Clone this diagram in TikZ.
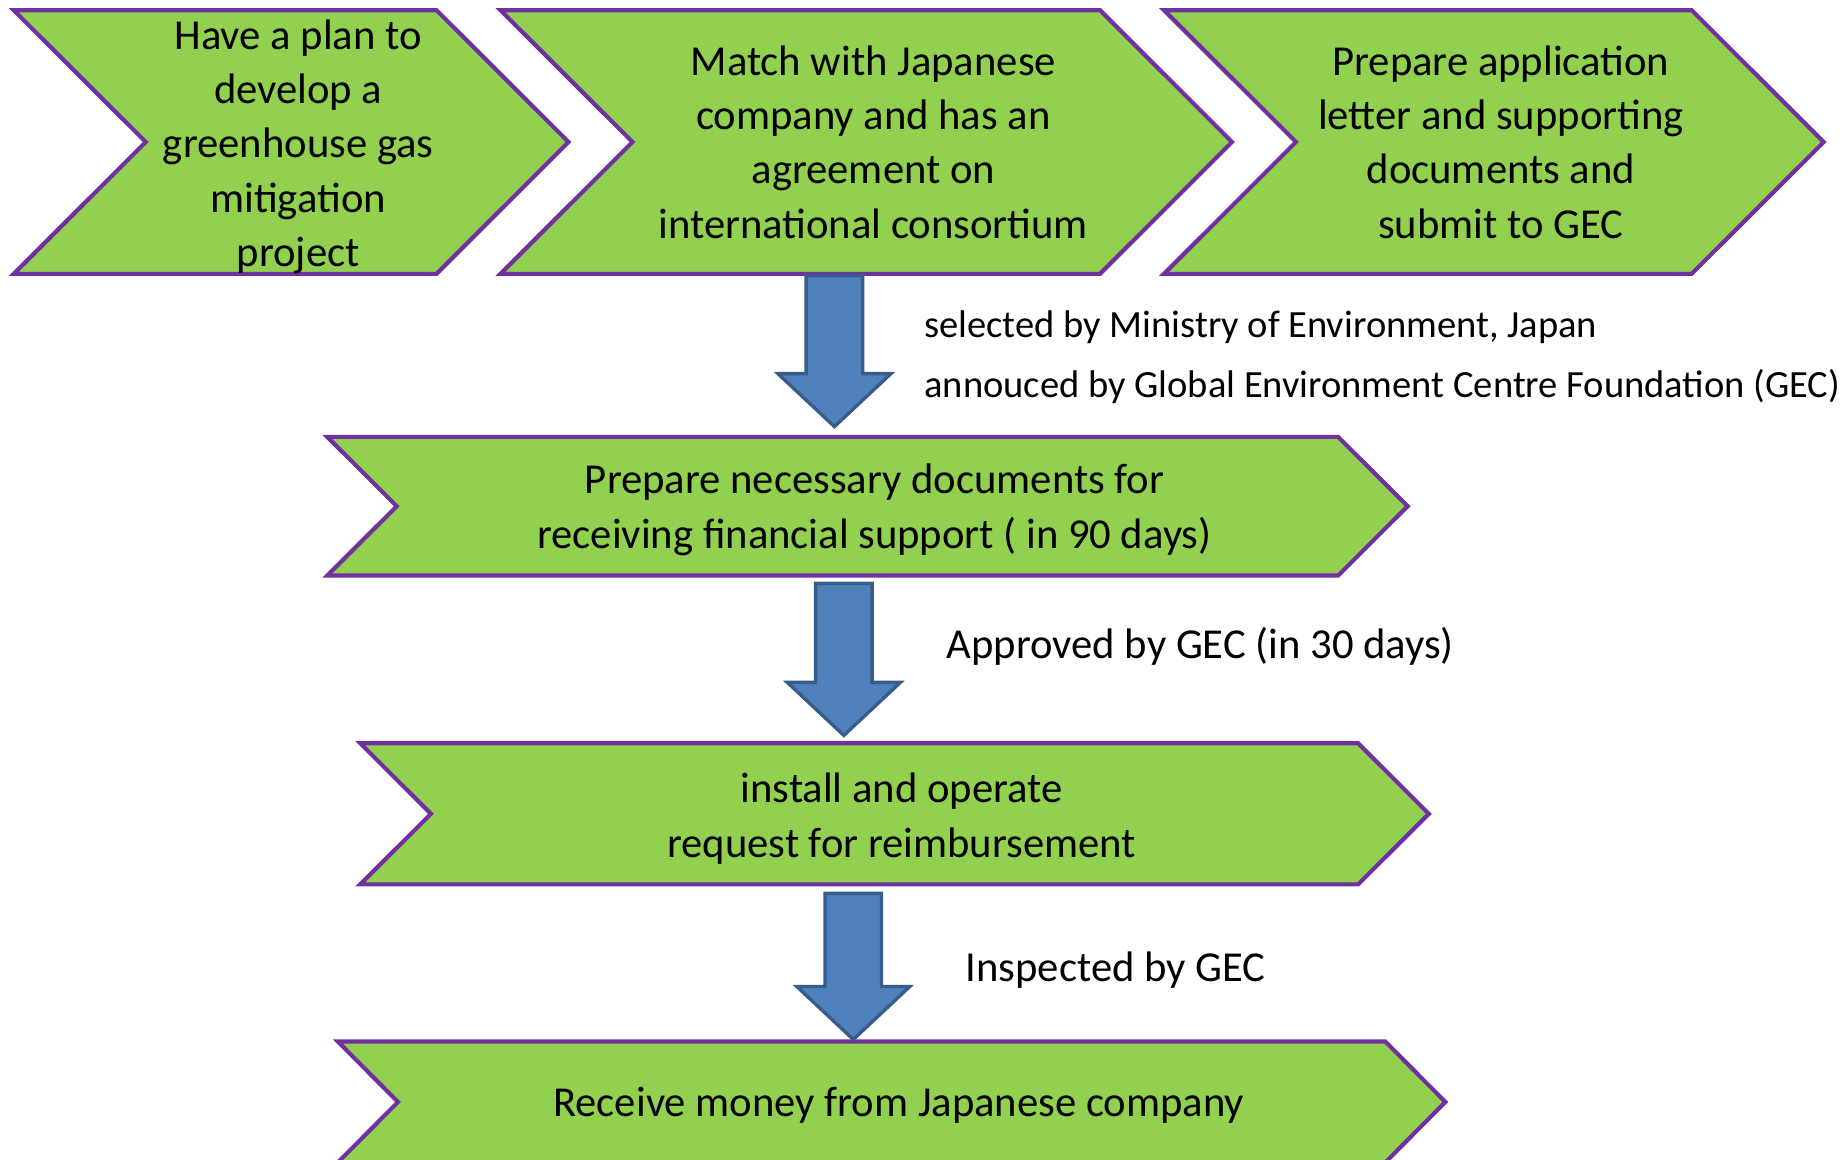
\documentclass[tikz,border=0pt]{standalone}
\usepackage{fontspec}
\setmainfont{Carlito}
\usetikzlibrary{calc}
\usetikzlibrary{backgrounds}
\definecolor{stagefill}{HTML}{92D050}
\definecolor{stageline}{HTML}{7030A0}
\definecolor{flowfill}{HTML}{4F81BD}
\definecolor{flowline}{HTML}{385D8A}
\newcommand{\px}{0.02cm}
\newcommand{\flowarrow}[2]{%
  \draw[flow] ($(#1)+(-24,0)$) -- ($(#2)+(-24,-45)$) -- ($(#2)+(-48,-45)$) -- (#2)
    -- ($(#2)+(48,-45)$) -- ($(#2)+(24,-45)$) -- ($(#1)+(24,0)$) -- cycle;}

\begin{document}
\begin{tikzpicture}[x=\px, y=-\px]
            \tikzset{stage/.style={inner sep=0pt, align=center, font=\fontsize{20.6}{26.2}\selectfont},
                     chevron/.style={fill=stagefill, draw=stageline, line width=2pt, line join=miter},
                     flow/.style={fill=flowfill, draw=flowline, line width=1.6pt, line join=miter},
                     note/.style={anchor=west, inner sep=0pt, font=\fontsize{18.6}{22}\selectfont},
                     bignote/.style={note, font=\fontsize{20.6}{26.2}\selectfont}}
            \useasboundingbox (0,0) rectangle (1568,984);
            % top row
            \node[stage, minimum width=470*\px, minimum height=223*\px] (plan) at (253,124.5) {Have a plan to\\develop a\\greenhouse gas\\mitigation\\project};
            \node[stage, minimum width=620*\px, minimum height=223*\px] (match) at (741,120.5) {Match with Japanese\\company and has an\\agreement on\\international consortium};
            \node[stage, minimum width=559*\px, minimum height=223*\px] (apply) at (1273.5,120.5) {Prepare application\\letter and supporting\\documents and\\submit to GEC};
            % lower steps
            \node[stage, minimum width=916*\px, minimum height=117*\px] (docs) at (742,432.5) {Prepare necessary documents for\\receiving financial support ( in 90 days)};
            \node[stage, minimum width=906*\px, minimum height=119*\px] (operate) at (765,694.5) {install and operate\\request for reimbursement};
            \node[stage, minimum width=939*\px, minimum height=102*\px] (receive) at (762.5,938) {Receive money from Japanese company};
            \begin{scope}[on background layer]
              \foreach \n/\d/\dy in {plan/112/4, match/112/0, apply/112/0, docs/59/3, operate/60/4, receive/51/3}
                \draw[chevron] ([shift={(-6,-\dy)}]\n.north west) -- ([shift={(-6-\d,-\dy)}]\n.north east)
                  -- ([shift={(-6,-\dy)}]\n.east) -- ([shift={(-6-\d,-\dy)}]\n.south east)
                  -- ([shift={(-6,-\dy)}]\n.south west) -- ([shift={(\d-6,-\dy)}]\n.west) -- cycle;
            \end{scope}
            % arrows between steps
            \coordinate (f1a) at (708,234);
            \coordinate (f1b) at (708,362);
            \coordinate (f2a) at (716,495);
            \coordinate (f2b) at (716,624);
            \coordinate (f3a) at (724,758);
            \coordinate (f3b) at (724,882);
            \flowarrow{f1a}{f1b}
            \flowarrow{f2a}{f2b}
            \flowarrow{f3a}{f3b}
            \node[note] (select) at (784,278) {selected by Ministry of Environment, Japan};
            \node[note] (announce) at (784,328) {annouced by Global Environment Centre Foundation (GEC)};
            \node[bignote] (approve) at (803,548) {Approved by GEC (in 30 days)};
            \node[bignote] (inspect) at (819,823) {Inspected by GEC};
        \end{tikzpicture}
\end{document}
